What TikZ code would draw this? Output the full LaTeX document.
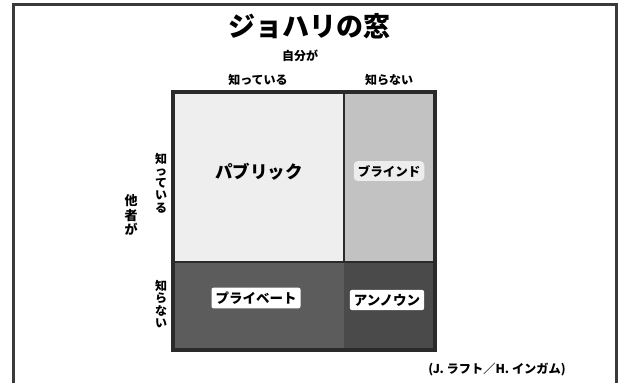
\documentclass[tikz,border=0pt]{standalone}
\usepackage{fontspec}
\setmainfont{Noto Sans CJK JP}
\definecolor{framec}{HTML}{3A3A3A}
\definecolor{pubc}{HTML}{EEEEEE}
\definecolor{blindc}{HTML}{C2C2C2}
\definecolor{privc}{HTML}{5C5C5C}
\definecolor{unkc}{HTML}{4A4A4A}
\definecolor{edgec}{HTML}{2A2A2A}
\tikzset{
  lbl/.style={inner sep=0pt, font=\bfseries\fontsize{12}{12}\selectfont},
  vlbl/.style={inner sep=0pt, align=center, font=\bfseries\fontsize{12}{12.2}\selectfont},
  tag/.style={fill=white, rounded corners=2pt, inner xsep=4pt, inner ysep=4pt, font=\bfseries\fontsize{13.5}{13.5}\selectfont}
}
\begin{document}
\begin{tikzpicture}[x=1pt,y=-1pt]
\useasboundingbox (0,0) rectangle (619,383);
\fill[white] (0,0) rectangle (619,383);
% outer frame
\draw[framec, line width=3pt] (13,383) -- (13,4.5) -- (616.5,4.5) -- (616.5,383);
% quadrants
\fill[pubc] (173,92) rectangle (344,262);
\fill[blindc] (344,92) rectangle (435,262);
\fill[privc] (173,262) rectangle (344,350);
\fill[unkc] (344,262) rectangle (435,350);
\coordinate (vt) at (344,92);
\coordinate (vb) at (344,262);
\draw[edgec, line width=2.5pt] (vt) -- (vb);
\draw[edgec, line width=2pt] (173,262) -- (435,262);
\draw[edgec, line width=4pt] (173,92) rectangle (435,350);
% texts
\node[inner sep=0pt, font=\bfseries\fontsize{27}{27}\selectfont] (title) at (309,26) {ジョハリの窓};
\node[lbl] (self) at (300,56) {自分が};
\node[lbl] (knowc) at (258,80) {知っている};
\node[lbl] (unknowc) at (389,80) {知らない};
\node[vlbl] (knowr) at (161,183) {知\\っ\\て\\い\\る};
\node[vlbl, font=\bfseries\fontsize{13}{14.5}\selectfont] (others) at (131,215) {他\\者\\が};
\node[vlbl] (unknowr) at (161,304) {知\\ら\\な\\い};
\node[inner sep=0pt, font=\bfseries\fontsize{17.5}{17.5}\selectfont] (public) at (259,172) {パブリック};
\node[tag, fill=white!70!blindc, rounded corners=4pt, font=\bfseries\fontsize{12.5}{12.5}\selectfont] (blind) at (389,171) {ブラインド};
\node[tag] (private) at (256,298) {プライベート};
\node[tag] (unknown) at (387,300) {アンノウン};
\node[inner sep=0pt, font=\bfseries\fontsize{12.2}{12.2}\selectfont] (credit) at (497,370) {(J. ラフト／H. インガム)};
\end{tikzpicture}
\end{document}
